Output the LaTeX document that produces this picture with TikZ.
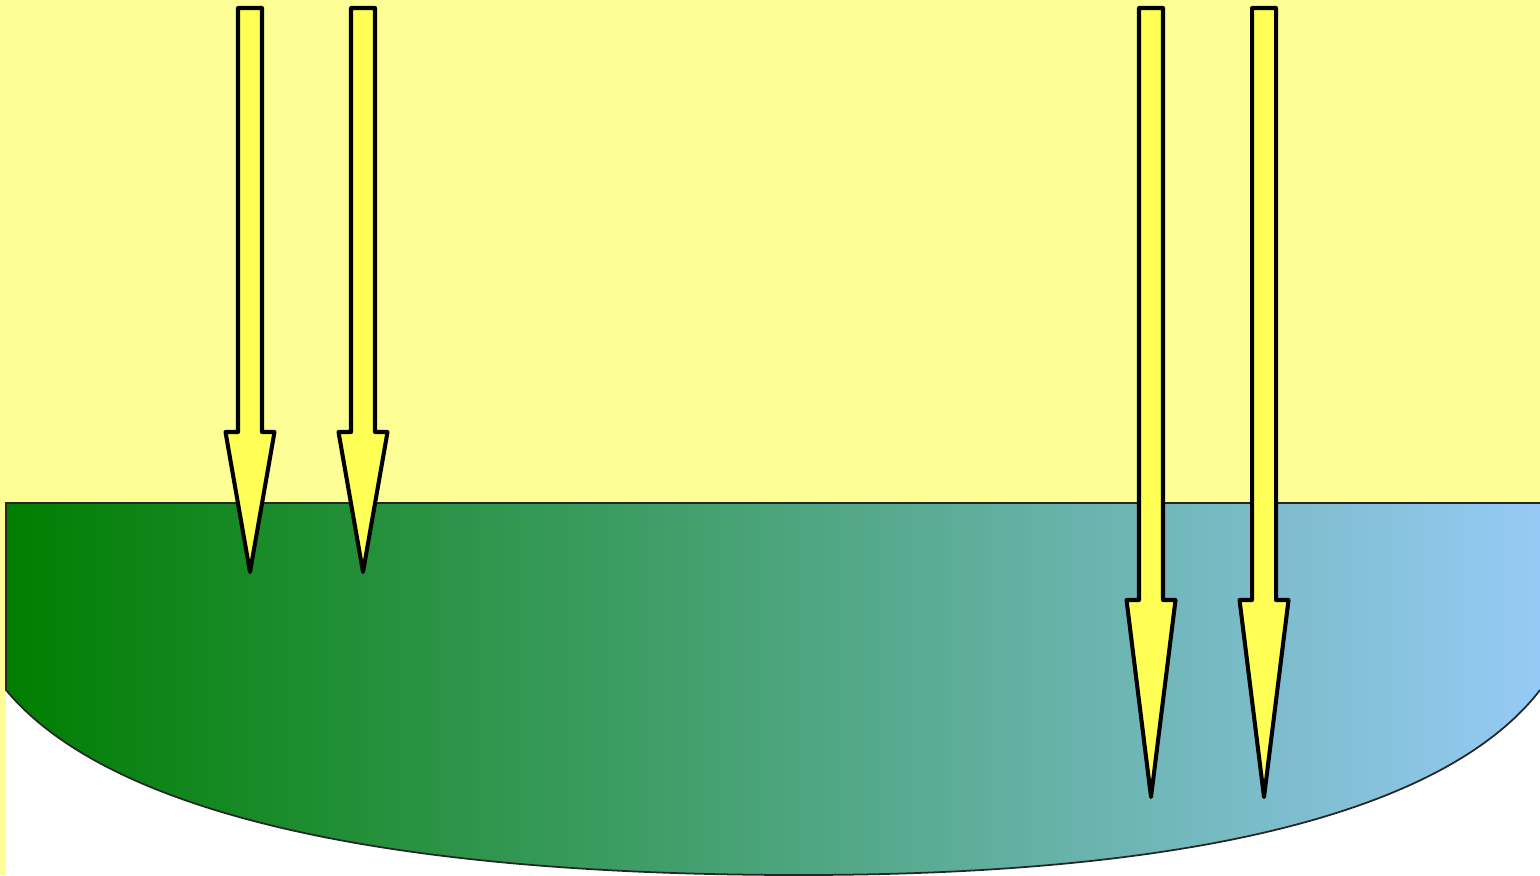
\documentclass[tikz,border=0pt]{standalone}
\usepackage{tikz}
\usepackage{xcolor}
\definecolor{skyYellow}{RGB}{253,254,149}
\definecolor{beamYellow}{RGB}{255,255,85}
\definecolor{seaGreen}{RGB}{0,126,0}
\definecolor{seaBlue}{RGB}{150,202,246}
\tikzset{beam/.style={draw=black,fill=beamYellow,line width=1.15pt,line join=round}}

\begin{document}
\begin{tikzpicture}[x=0.01cm,y=-0.01cm]
\useasboundingbox (0,0) rectangle (1540,875);
% sky and left strip
\fill[skyYellow] (0,0) rectangle (1540,503);
\fill[skyYellow] (0,503) rectangle (6,875);
% water body
\shade[left color=seaGreen,right color=seaBlue,shading=axis]
  (6,503) -- (1540,503) -- (1540,690)
  .. controls (1463,790) and (1258,875) .. (800,875)
  .. controls (309,875) and (89,790) .. (6,690) -- cycle;
\draw[line width=0.5pt,black!85] (1540,690)
  .. controls (1463,790) and (1258,875) .. (800,875)
  .. controls (309,875) and (89,790) .. (6,690) -- (6,503) -- (1540,503);
% rays: centre x / head y / tip y
\foreach \cx/\hy/\ty in {250/432/572, 363/432/572, 1151/600/797, 1264/600/797}{
  \draw[beam] (\cx-12,8) -- (\cx+12,8) -- (\cx+12,\hy) -- (\cx+24.5,\hy)
    -- (\cx,\ty) -- (\cx-24.5,\hy) -- (\cx-12,\hy) -- cycle;
}
\end{tikzpicture}
\end{document}
